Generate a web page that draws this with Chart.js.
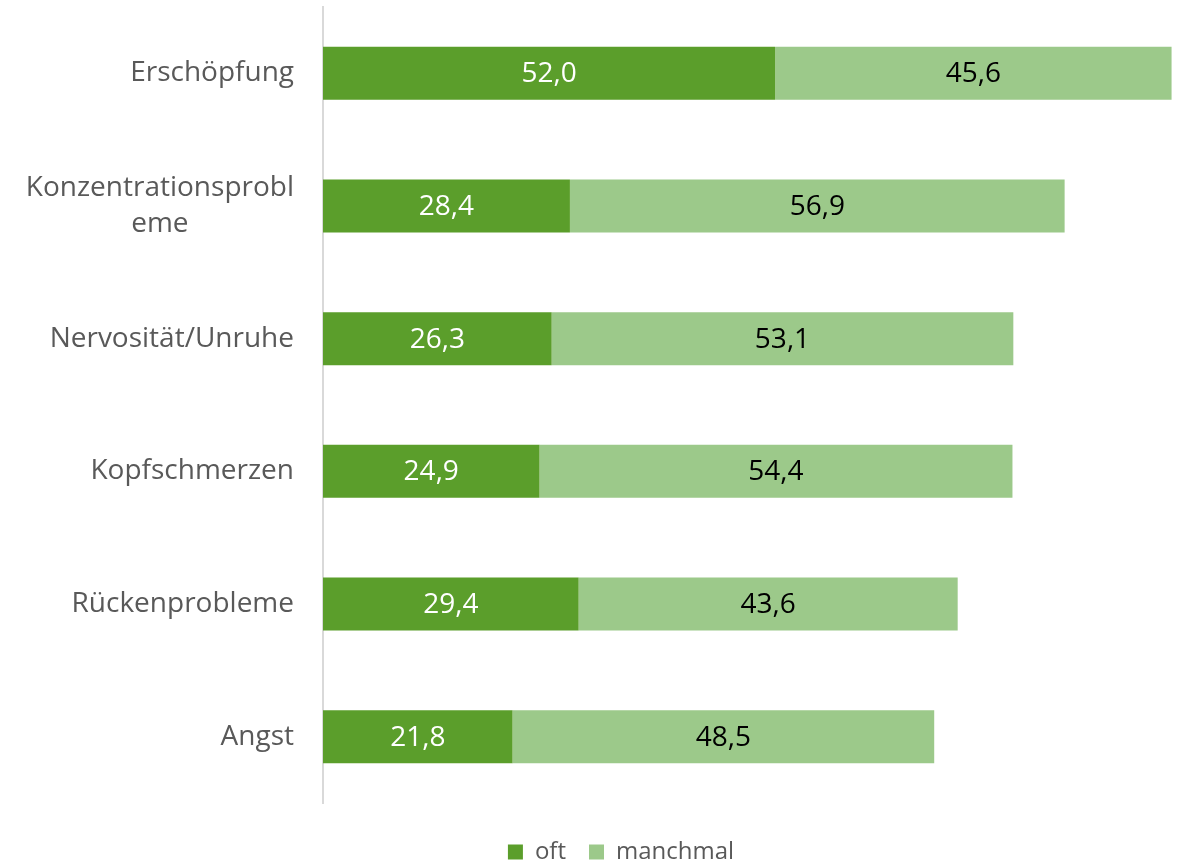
<!DOCTYPE html>
<html lang="de">
<head>
  <meta charset="utf-8">
  <title>Beschwerden</title>
  <script src="https://cdn.jsdelivr.net/npm/chart.js"></script>
  <style>
    html, body {
      margin: 0;
      padding: 0;
      background: #ffffff;
    }
    .chart-container {
      position: relative;
      width: 1182px;
      height: 865px;
    }
  </style>
</head>
<body>
  <div class="chart-container">
    <canvas id="chart"></canvas>
  </div>

  <script>
    // data
    const categories = [
      ['Erschöpfung'],
      ['Konzentrationsprobl', 'eme'],
      ['Nervosität/Unruhe'],
      ['Kopfschmerzen'],
      ['Rückenprobleme'],
      ['Angst']
    ];
    const oft = [52.0, 28.4, 26.3, 24.9, 29.4, 21.8];
    const manchmal = [45.6, 56.9, 53.1, 54.4, 43.6, 48.5];
    const seriesNames = ['oft', 'manchmal'];

    const labelFont = '28px "Open Sans", "Noto Sans", sans-serif';

    // category labels drawn left of the axis, lines centred within each label block
    const categoryLabels = {
      id: 'categoryLabels',
      afterDraw(chart) {
        const ctx = chart.ctx;
        const yScale = chart.scales.y;
        const right = chart.chartArea.left - 29;
        const lineH = 36;
        ctx.save();
        ctx.font = labelFont;
        ctx.fillStyle = '#595959';
        ctx.textAlign = 'center';
        ctx.textBaseline = 'middle';
        categories.forEach((lines, i) => {
          const y = yScale.getPixelForValue(i);
          const widest = Math.max(...lines.map(l => ctx.measureText(l).width));
          const x = right - widest / 2;
          const top = y - (lines.length - 1) * lineH / 2;
          lines.forEach((l, j) => ctx.fillText(l, x, top + j * lineH));
        });
        ctx.restore();
      }
    };

    // value labels in the middle of each segment
    const valueLabels = {
      id: 'valueLabels',
      afterDatasetsDraw(chart) {
        const ctx = chart.ctx;
        ctx.save();
        ctx.font = labelFont;
        ctx.textAlign = 'center';
        ctx.textBaseline = 'middle';
        chart.data.datasets.forEach((ds, di) => {
          const meta = chart.getDatasetMeta(di);
          ctx.fillStyle = di === 0 ? '#ffffff' : '#000000';
          meta.data.forEach((bar, i) => {
            const cx = (bar.x + bar.base) / 2;
            ctx.fillText(ds.data[i].toFixed(1).replace('.', ','), cx, bar.y + 1);
          });
        });
        ctx.restore();
      }
    };

    const ctx = document.getElementById('chart').getContext('2d');
    new Chart(ctx, {
      type: 'bar',
      data: {
        labels: categories,
        datasets: [
          {
            label: seriesNames[0],
            data: oft,
            backgroundColor: '#5b9e2b',
            barPercentage: 0.8,
            categoryPercentage: 0.5
          },
          {
            label: seriesNames[1],
            data: manchmal,
            backgroundColor: '#9cc98a',
            barPercentage: 0.8,
            categoryPercentage: 0.5
          }
        ]
      },
      options: {
        indexAxis: 'y',
        responsive: true,
        maintainAspectRatio: false,
        animation: false,
        layout: {
          padding: { left: 60, top: 7, right: 0, bottom: -9 }
        },
        scales: {
          x: {
            stacked: true,
            min: 0,
            max: 98.8,
            ticks: { display: false },
            grid: { display: false },
            border: { display: false },
            afterFit(scale) { scale.height = 14; }
          },
          y: {
            stacked: true,
            ticks: { display: false },
            grid: { display: false },
            border: { display: true, color: '#d9d9d9', width: 2 },
            afterFit(scale) { scale.width = 263; }
          }
        },
        plugins: {
          legend: {
            position: 'bottom',
            labels: {
              boxWidth: 15,
              boxHeight: 15,
              padding: 23,
              color: '#595959',
              font: { family: '"Open Sans", "Noto Sans", sans-serif', size: 24 }
            }
          },
          tooltip: { enabled: false }
        }
      },
      plugins: [categoryLabels, valueLabels]
    });
  </script>
</body>
</html>
